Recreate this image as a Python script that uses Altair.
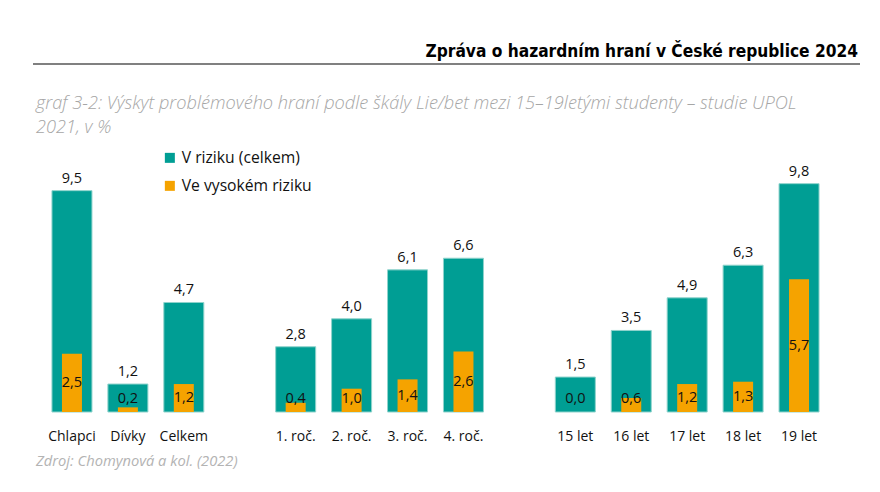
import altair as alt
import pandas as pd

categories = ["Chlapci", "Dívky", "Celkem", "1. roč.", "2. roč.", "3. roč.", "4. roč.",
              "15 let", "16 let", "17 let", "18 let", "19 let"]
v_riziku = [9.5, 1.2, 4.7, 2.8, 4.0, 6.1, 6.6, 1.5, 3.5, 4.9, 6.3, 9.8]
vysoke_riziko = [2.5, 0.2, 1.2, 0.4, 1.0, 1.4, 2.6, 0.0, 0.6, 1.2, 1.3, 5.7]
series = ["V riziku (celkem)", "Ve vysokém riziku"]
colors = ["#009E94", "#F5A300"]

# axis order with blank spacer slots between groups
x_domain = categories[:3] + [" "] + categories[3:7] + ["  "] + categories[7:]

rows = []
for c, a, b in zip(categories, v_riziku, vysoke_riziko):
    rows.append({"kat": c, "serie": series[0], "hodnota": a})
    rows.append({"kat": c, "serie": series[1], "hodnota": b})
df = pd.DataFrame(rows)

FONT = "Open Sans"

x_enc = alt.X("kat:N", scale=alt.Scale(domain=x_domain, paddingInner=0.284, paddingOuter=0.142),
              sort=x_domain,
              axis=alt.Axis(title=None, labelAngle=0, ticks=False, domain=False, grid=False,
                            labelFontSize=14, labelFont=FONT, labelColor="#111111",
                            labelPadding=17))
y_scale = alt.Scale(domain=[0, 10], nice=False)

base = alt.Chart(df).transform_calculate(
    lab="replace(format(datum.hodnota, '.1f'), '.', ',')",
    ymid="max(datum.hodnota / 2, 0.56)",
)

teal = base.transform_filter(alt.datum.serie == series[0]).mark_bar(
    size=40, stroke="#8fd3cc", strokeWidth=1
).encode(
    x=x_enc,
    y=alt.Y("hodnota:Q", scale=y_scale, axis=None),
    color=alt.Color("serie:N", scale=alt.Scale(domain=series, range=colors),
                    legend=alt.Legend(title=None, orient="none", legendX=118, legendY=-29,
                                      symbolType="square", symbolSize=100,
                                      symbolStrokeWidth=0,
                                      labelFontSize=15.7, labelFont=FONT, labelColor="#111111",
                                      rowPadding=11, labelOffset=4)),
)

orange = base.transform_filter(alt.datum.serie == series[1]).mark_bar(size=20).encode(
    x=x_enc,
    y=alt.Y("hodnota:Q", scale=y_scale),
    color=alt.Color("serie:N", scale=alt.Scale(domain=series, range=colors)),
)

teal_lab = base.transform_filter(alt.datum.serie == series[0]).mark_text(
    baseline="bottom", dy=-5, fontSize=14.5, font=FONT, color="#111111"
).encode(x=x_enc, y=alt.Y("hodnota:Q", scale=y_scale), text="lab:N")

orange_lab = base.transform_filter(alt.datum.serie == series[1]).mark_text(
    baseline="middle", fontSize=14.5, font=FONT, color="#111111"
).encode(x=x_enc, y=alt.Y("ymid:Q", scale=y_scale), text="lab:N")

header = alt.Chart(pd.DataFrame({"t": ["Zpráva o hazardním hraní v České republice 2024"]})).mark_text(
    align="right", baseline="alphabetic", fontSize=17.2, fontWeight="bold",
    font="Liberation Sans Narrow, DejaVu Sans Condensed, Open Sans", color="#000000"
).encode(x=alt.value(814), y=alt.value(-122), text="t:N")

hline = alt.Chart(pd.DataFrame({"a": [0]})).mark_rule(color="#808080", strokeWidth=2).encode(
    x=alt.value(-11), x2=alt.value(816), y=alt.value(-115)
)

subtitle = alt.Chart(pd.DataFrame({
    "t": ["graf 3-2: Výskyt problémového hraní podle škály Lie/bet mezi 15–19letými studenty – studie UPOL",
          "2021, v %"],
    "yy": [-70, -46],
})).mark_text(
    align="left", baseline="alphabetic", fontSize=18.2, fontStyle="italic", font=FONT,
    fontWeight=300, color="#a6a6a6"
).encode(x=alt.value(-8), y=alt.Y("yy:Q", scale=None), text="t:N")

source = alt.Chart(pd.DataFrame({"t": ["Zdroj: Chomynová a kol. (2022)"]})).mark_text(
    align="left", baseline="middle", fontSize=14.7, fontStyle="italic", font=FONT,
    color="#b3b3b3"
).encode(x=alt.value(-8), y=alt.value(283), text="t:N")

chart = alt.layer(teal, orange, teal_lab, orange_lab, header, hline, subtitle, source).properties(
    width=783, height=233,
    padding={"left": 36, "top": 171, "right": 45, "bottom": 72},
    autosize=alt.AutoSizeParams(type="none"),
    background="white",
).configure_view(stroke=None)

chart.save("out.html", embed_options={"renderer": "svg", "actions": False})
